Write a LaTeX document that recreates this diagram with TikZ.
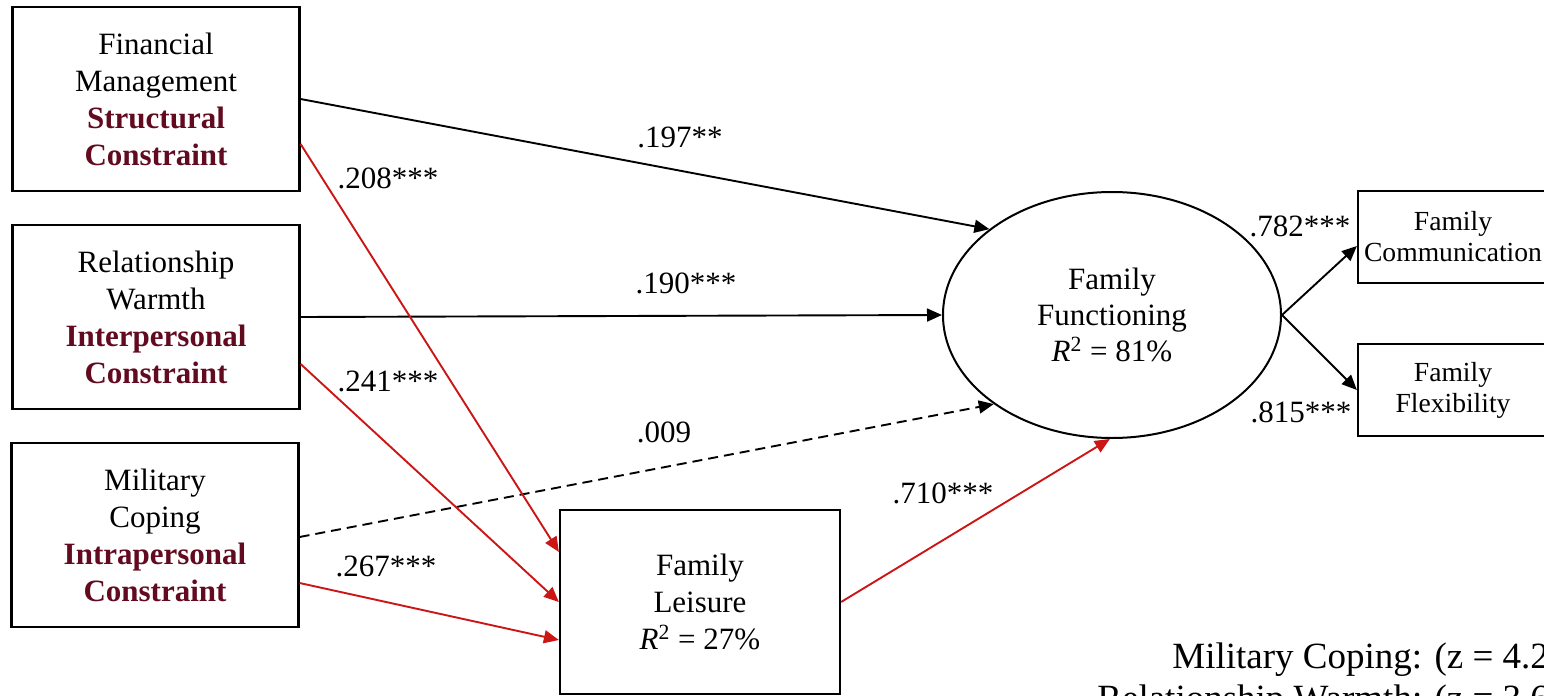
\documentclass[tikz,border=0pt]{standalone}
\usepackage{fontspec}
\setmainfont{Liberation Serif}
\usetikzlibrary{arrows.meta}
\usetikzlibrary{calc}
\usetikzlibrary{shapes.geometric}

\definecolor{constraintred}{RGB}{98,10,32}
\definecolor{pathred}{RGB}{204,22,22}
\newcommand{\cons}[1]{\textcolor{constraintred}{\bfseries #1}}

\begin{document}
\begin{tikzpicture}[x=0.5pt,y=-0.5pt,
    every node/.style={font=\fontsize{15.5}{18.5}\selectfont},
    predictor/.style={draw,rectangle,line width=1.1pt,minimum width=143.5pt,minimum height=92pt,inner sep=0pt,align=center},
    mediator/.style={draw,rectangle,line width=1.1pt,minimum width=140pt,minimum height=92pt,inner sep=0pt,align=center},
    indicator/.style={draw,rectangle,line width=1.1pt,minimum width=95pt,minimum height=46pt,inner sep=0pt,align=center,font=\fontsize{13.8}{15.5}\selectfont},
    latent/.style={draw,ellipse,line width=1pt,minimum width=169pt,minimum height=123pt,inner sep=0pt,align=center,font=\fontsize{15.5}{18}\selectfont},
    effect/.style={line width=0.95pt,-{Triangle[length=7.5pt,width=6.5pt]}},
    note/.style={anchor=base west,inner sep=0pt,font=\fontsize{18.5}{21}\selectfont}
  ]

  \useasboundingbox (0,0) rectangle (1544,696);
  \clip (0,0) rectangle (1544,696);

  \node [predictor] (FM) at (156,99) {Financial\\Management\\\cons{Structural}\\\cons{Constraint}};
  \node [predictor] (RW) at (156,317) {Relationship\\Warmth\\\cons{Interpersonal}\\\cons{Constraint}};
  \node [predictor] (MC) at (155,535) {Military\\Coping\\\cons{Intrapersonal}\\\cons{Constraint}};

  \node [mediator] (FL) at (700,602) {Family\\Leisure\\\textit{R}\textsuperscript{2} = 27\%};

  \node [latent] (FF) at (1112,315) {Family\\Functioning\\\textit{R}\textsuperscript{2} = 81\%};

  \node [indicator] (FC) at (1453,237) {Family\\Communication};
  \node [indicator] (FX) at (1453,390) {Family\\Flexibility};

  \path [effect]
    (FM.east) edge (FF.145)
    (RW.east) edge (FF.west)
    (FF.east) edge ($(FC.west)+(0,9)$)
    (FF.east) edge (FX.west);

  \path [effect,dash pattern=on 5pt off 3pt]
    ($(MC.east)+(0,2)$) edge (FF.217);

  \path [effect,pathred]
    ($(FM.east)+(0,45)$) edge ($(FL.west)+(0,-50)$)
    ($(RW.east)+(0,47)$) edge (FL.west)
    ($(MC.east)+(0,48)$) edge ($(FL.west)+(0,38)$)
    (FL.east) edge (FF.269);

  \node (b197) at (680,137) {.197**};
  \node (b208) at (388,178) {.208***};
  \node (b190) at (686,283) {.190***};
  \node (b241) at (388,381) {.241***};
  \node (b009) at (664,432) {.009};
  \node (b267) at (386,566) {.267***};
  \node (b710) at (943,493) {.710***};
  \node (b782) at (1300,226) {.782***};
  \node (b815) at (1301,412) {.815***};

  \node [note] (zMC) at (1172,668) {Military Coping: (z = 4.2};
  \node [note] (zRW) at (1097,710) {Relationship Warmth: (z = 3.6};

\end{tikzpicture}
\end{document}
